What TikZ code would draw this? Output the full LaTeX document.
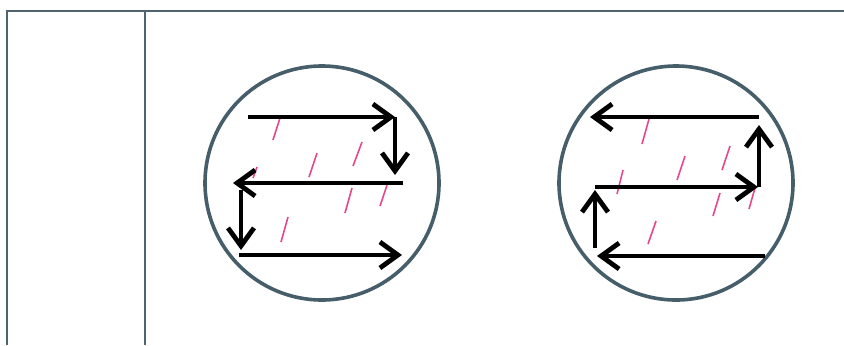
\documentclass[tikz,border=0pt]{standalone}
\usetikzlibrary{arrows.meta}
\definecolor{framecol}{RGB}{79,100,112}
\definecolor{ringcol}{RGB}{70,94,106}
\definecolor{dashcol}{RGB}{232,70,140}
\begin{document}
\begin{tikzpicture}[x=0.5pt,y=-0.5pt]
  \tikzstyle{frameline}=[draw=framecol,line width=1.2pt]
  \tikzstyle{ring}=[draw=ringcol,line width=1.8pt]
  \tikzstyle{scan}=[line width=2.4pt,-{Straight Barb[length=9pt,width=13pt,line width=2.4pt]}]
  \tikzstyle{hatch}=[dashcol,line width=0.8pt]
  \useasboundingbox (0,0) rectangle (844,345);
  % frame
  \draw[frameline] (7,345) -- (7,11) -- (844,11);
  \draw[frameline] (145,11) -- (145,345);
  % left circle
  \draw[ring] (322,183) circle (117);
  \foreach \xa/\ya/\xb/\yb in {280/118/273/140, 317/153/309/177, 362/142/353/166,
      257/167/253/178, 352/188/345/213, 387/185/380/206, 288/217/281/242}
    \draw[hatch] (\xa,\ya) -- (\xb,\yb);
  \coordinate (l1) at (248,117); \coordinate (l2) at (395,117);
  \coordinate (l3) at (395,175); \coordinate (l4) at (403,183);
  \coordinate (l5) at (233,183); \coordinate (l6) at (241,190);
  \coordinate (l7) at (241,250); \coordinate (l8) at (239,255);
  \coordinate (l9) at (402,255);
  \draw[scan] (l1) -- (l2); \draw[scan] (l2) -- (l3);
  \draw[scan] (l4) -- (l5); \draw[scan] (l6) -- (l7);
  \draw[scan] (l8) -- (l9);
  % right circle
  \draw[ring] (676,183) circle (117);
  \foreach \xa/\ya/\xb/\yb in {649/119/642/144, 623/170/617/194, 685/156/677/180,
      730/146/722/170, 720/193/713/216, 755/188/749/209, 656/221/648/244}
    \draw[hatch] (\xa,\ya) -- (\xb,\yb);
  \coordinate (r1) at (759,117); \coordinate (r2) at (590,117);
  \coordinate (r3) at (759,187); \coordinate (r4) at (759,125);
  \coordinate (r5) at (595,187); \coordinate (r6) at (758,187);
  \coordinate (r7) at (595,248); \coordinate (r8) at (595,190);
  \coordinate (r9) at (765,256); \coordinate (r10) at (597,256);
  \draw[scan] (r1) -- (r2); \draw[scan] (r3) -- (r4);
  \draw[scan] (r5) -- (r6); \draw[scan] (r7) -- (r8);
  \draw[scan] (r9) -- (r10);
\end{tikzpicture}
\end{document}
